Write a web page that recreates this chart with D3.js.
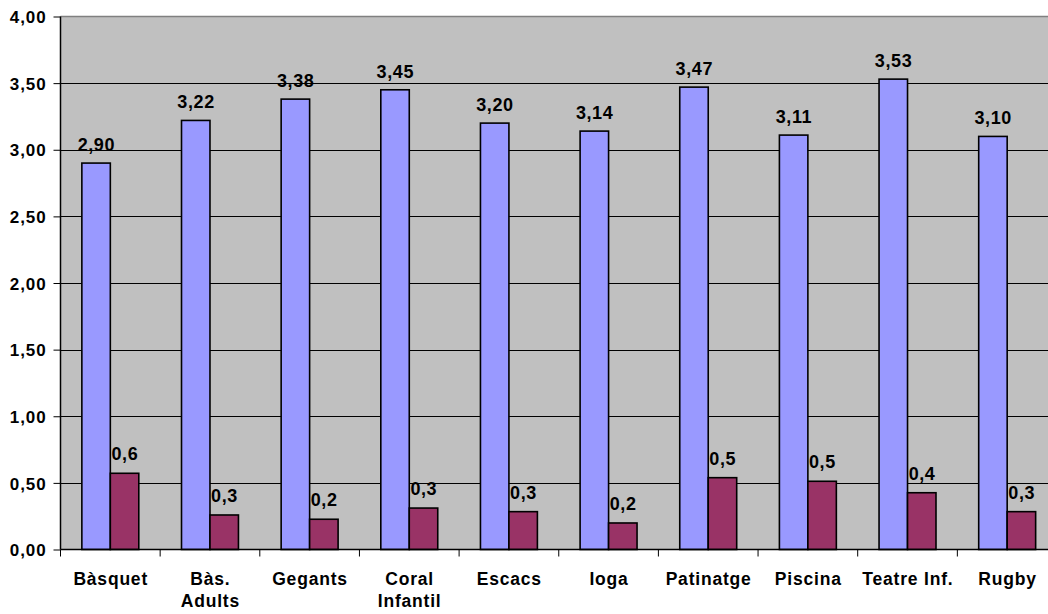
<!DOCTYPE html>
<html>
<head>
<meta charset="utf-8">
<script src="https://cdn.jsdelivr.net/npm/d3@7"></script>
<style>
  html, body { margin: 0; padding: 0; background: #ffffff; }
  svg { display: block; }
  text { font-family: "Liberation Sans", Arial, sans-serif; font-weight: bold; fill: #000; }
</style>
</head>
<body>
<svg id="chart" width="1048" height="614"></svg>
<script>
const categories = [["Bàsquet"], ["Bàs.", "Adults"], ["Gegants"], ["Coral", "Infantil"], ["Escacs"], ["Ioga"], ["Patinatge"], ["Piscina"], ["Teatre Inf."], ["Rugby"]];
const seriesA = [2.90, 3.22, 3.38, 3.45, 3.20, 3.14, 3.47, 3.11, 3.53, 3.10];
const seriesB = [0.572, 0.259, 0.227, 0.311, 0.284, 0.199, 0.539, 0.512, 0.426, 0.284];
const labelsA = ["2,90", "3,22", "3,38", "3,45", "3,20", "3,14", "3,47", "3,11", "3,53", "3,10"];
const labelsB = ["0,6", "0,3", "0,2", "0,3", "0,3", "0,2", "0,5", "0,5", "0,4", "0,3"];
const yTicks = [0, 0.5, 1, 1.5, 2, 2.5, 3, 3.5, 4];
const yTickLabels = ["0,00", "0,50", "1,00", "1,50", "2,00", "2,50", "3,00", "3,50", "4,00"];

(function () {
const svg = d3.select("#chart");
const pLeft = 60.5, pTop = 16.5, pBottom = 549.5;
const step = 99.65;
const pRight = pLeft + step * categories.length;

const x0 = d3.scaleBand().domain(d3.range(categories.length)).range([pLeft, pRight]).padding(0);
const w = x0.bandwidth() / 3.5;
const x1 = d3.scaleBand().domain(["A", "B"]).range([0.75 * w, 2.75 * w]).padding(0);
const y = d3.scaleLinear().domain([0, 4]).range([pBottom, pTop]);

svg.append("rect").attr("x", pLeft).attr("y", pTop)
  .attr("width", pRight - pLeft).attr("height", pBottom - pTop).attr("fill", "#c0c0c0");

svg.append("g").selectAll("line").data(yTicks.filter(t => t > 0 && t < 4)).join("line")
  .attr("x1", pLeft).attr("x2", pRight)
  .attr("y1", d => Math.round(y(d)) + 0.5).attr("y2", d => Math.round(y(d)) + 0.5)
  .attr("stroke", "#000").attr("stroke-width", 1);

svg.append("line").attr("x1", pLeft).attr("x2", pRight).attr("y1", pTop).attr("y2", pTop)
  .attr("stroke", "#808080").attr("stroke-width", 1.5);

const groups = svg.append("g").selectAll("g").data(d3.range(categories.length)).join("g")
  .attr("transform", i => `translate(${x0(i)},0)`);

groups.append("rect")
  .attr("x", x1("A")).attr("width", x1.bandwidth())
  .attr("y", i => y(seriesA[i])).attr("height", i => pBottom - y(seriesA[i]))
  .attr("fill", "#9999ff").attr("stroke", "#000").attr("stroke-width", 1.6);
groups.append("rect")
  .attr("x", x1("B")).attr("width", x1.bandwidth())
  .attr("y", i => y(seriesB[i])).attr("height", i => pBottom - y(seriesB[i]))
  .attr("fill", "#993366").attr("stroke", "#000").attr("stroke-width", 1.6);

const lblStyle = sel => sel.attr("text-anchor", "middle").style("font-size", "18px").style("letter-spacing", "0.6px");
groups.append("text").call(lblStyle)
  .attr("x", x1("A") + x1.bandwidth() / 2 + 0.3).attr("y", i => y(seriesA[i]) - 12)
  .text(i => labelsA[i]);
groups.append("text").call(lblStyle)
  .attr("x", x1("B") + x1.bandwidth() / 2 + 0.3).attr("y", i => y(seriesB[i]) - 13)
  .text(i => labelsB[i]);

const yAxis = d3.axisLeft(y).tickValues(yTicks).tickSize(7).tickPadding(8)
  .tickFormat((d, i) => yTickLabels[i]);
const gy = svg.append("g").attr("transform", `translate(${pLeft},0)`).call(yAxis);
gy.select(".domain").attr("stroke", "#000").attr("stroke-width", 1.5).attr("d", `M0,${pTop}V${pBottom}`);
gy.selectAll(".tick line").attr("stroke", "#000");
gy.selectAll(".tick text").style("font-size", "17px").style("letter-spacing", "0.9px")
  .style("font-family", '"Liberation Sans", Arial, sans-serif').style("font-weight", "bold")
  .attr("dy", "0.36em").attr("x", -14);

svg.append("line").attr("x1", pLeft).attr("x2", pRight).attr("y1", pBottom).attr("y2", pBottom)
  .attr("stroke", "#000").attr("stroke-width", 1.5);
svg.append("g").selectAll("line").data(d3.range(categories.length + 1)).join("line")
  .attr("x1", i => pLeft + i * x0.step()).attr("x2", i => pLeft + i * x0.step())
  .attr("y1", pBottom).attr("y2", pBottom + 7).attr("stroke", "#000").attr("stroke-width", 1);

const cat = svg.append("g").selectAll("text").data(d3.range(categories.length)).join("text")
  .attr("text-anchor", "middle").style("font-size", "17.5px").style("letter-spacing", "0.8px")
  .attr("x", i => x0(i) + x0.bandwidth() / 2).attr("y", 585);
cat.selectAll("tspan").data(i => categories[i].map((t, k) => ({t, k, i}))).join("tspan")
  .attr("x", d => x0(d.i) + x0.bandwidth() / 2 + 0.4).attr("dy", d => d.k === 0 ? 0 : 21.5)
  .text(d => d.t);
})();
</script>
</body>
</html>
